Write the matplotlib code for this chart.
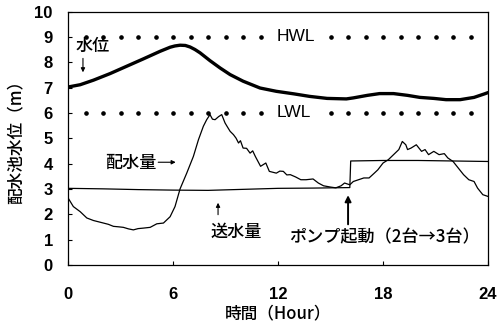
import numpy as np
import matplotlib
matplotlib.use('Agg')
import matplotlib.pyplot as plt

plt.rcParams['font.family'] = ['Noto Sans CJK JP', 'DejaVu Sans']

# 水位 (m)
level_h = [0, 0.69, 1.45, 2.4, 3.35, 4.3, 5.26, 5.83, 6.1, 6.4, 6.7, 6.97, 7.25, 7.54,
           8.11, 8.69, 9.26, 10.0, 10.97, 11.9, 12.9, 13.8, 14.8, 15.9, 16.3, 17.1,
           17.8, 18.6, 19.4, 20.1, 20.9, 21.6, 22.4, 23.2, 23.8, 24]
level_v = [7.02, 7.11, 7.29, 7.55, 7.84, 8.13, 8.43, 8.59, 8.64, 8.67, 8.66, 8.6, 8.5, 8.37,
           8.06, 7.77, 7.51, 7.25, 6.98, 6.85, 6.75, 6.65, 6.57, 6.55, 6.59, 6.69,
           6.76, 6.76, 6.69, 6.61, 6.57, 6.52, 6.52, 6.61, 6.75, 6.8]

# 配水量
demand_h = [0, 0.3, 0.69, 1.07, 1.45, 2.02, 2.3, 2.59, 2.9, 3.16, 3.45, 3.73, 4.0, 4.3,
            4.69, 5.07, 5.45, 5.83, 6.11, 6.4, 6.78, 7.16, 7.45, 7.73, 7.92, 8.11,
            8.25, 8.4, 8.6, 8.78, 8.97, 9.1, 9.26, 9.45, 9.6, 9.74, 9.85, 10.0, 10.2,
            10.4, 10.55, 10.7, 11.0, 11.3, 11.5, 11.9, 12.1, 12.3, 12.5, 12.7, 13.0,
            13.3, 13.6, 14.0, 14.3, 14.6, 15.0, 15.3, 15.6, 15.8, 16.1, 16.3, 16.6,
            16.9, 17.2, 17.5, 17.7, 18.0, 18.3, 18.6, 18.9, 19.1, 19.3, 19.4, 19.6,
            19.9, 20.2, 20.4, 20.6, 20.9, 21.2, 21.5, 21.7, 22.0, 22.3, 22.6, 22.9,
            23.2, 23.4, 23.7, 24]
demand_v = [2.64, 2.3, 2.1, 1.85, 1.75, 1.65, 1.6, 1.52, 1.5, 1.48, 1.42, 1.38, 1.43, 1.45,
            1.48, 1.62, 1.65, 1.9, 2.3, 3.0, 3.62, 4.28, 4.94, 5.47, 5.73, 5.93,
            5.75, 5.73, 5.85, 5.93, 5.6, 5.45, 5.27, 5.14, 5.0, 4.81, 4.9, 4.61, 4.6,
            4.41, 4.5, 4.28, 3.89, 4.02, 3.69, 3.62, 3.7, 3.69, 3.55, 3.56, 3.47,
            3.36, 3.36, 3.39, 3.23, 3.12, 3.07, 3.04, 3.12, 3.23, 3.16, 3.29, 3.36,
            3.43, 3.43, 3.62, 3.75, 4.02, 4.15, 4.35, 4.55, 4.87, 4.74, 4.55, 4.61,
            4.74, 4.48, 4.55, 4.35, 4.48, 4.35, 4.39, 4.22, 4.08, 3.82, 3.56, 3.36,
            3.29, 3.03, 2.77, 2.7]

# 送水量
supply_h = [0, 2, 4, 6, 8, 10, 12, 14, 16.1, 16.15, 18, 20, 22, 24]
supply_v = [3.02, 3.0, 2.97, 2.95, 2.94, 2.98, 3.02, 3.03, 3.05, 4.1, 4.12, 4.12, 4.1, 4.08]

# HWL / LWL の点線
hwl, lwl = 9, 6
dot_h = [1, 2, 3, 4, 5, 6, 7, 8, 9, 10, 11, 15, 16, 17, 18, 19, 20, 21, 22, 23]

fig = plt.figure(figsize=(4.97, 3.29), dpi=100)
ax = fig.add_axes([0.137, 0.195, 0.845, 0.77])

ax.plot(dot_h, [hwl] * len(dot_h), ls='none', marker='o', ms=2.3, color='black')
ax.plot(dot_h, [lwl] * len(dot_h), ls='none', marker='o', ms=2.3, color='black')
ax.text(13.0, hwl, 'HWL', ha='center', va='center', fontsize=12.5, family='Liberation Sans')
ax.text(12.9, lwl, 'LWL', ha='center', va='center', fontsize=12.5, family='Liberation Sans')

ax.plot(level_h, level_v, color='black', lw=2.4, solid_capstyle='round', solid_joinstyle='round')
ax.plot(demand_h, demand_v, color='black', lw=0.9)
ax.plot(supply_h, supply_v, color='black', lw=0.9)

jp = dict(fontsize=12.3, color='black', fontweight='medium')
ax.text(1.4, 8.62, '水位', ha='center', va='center', **jp)
ax.annotate('', xy=(0.85, 7.6), xytext=(0.85, 8.15),
            arrowprops=dict(arrowstyle='-|>', color='black', lw=0.8,
                            mutation_scale=6, shrinkA=0, shrinkB=0))
ax.text(3.6, 4.03, '配水量', ha='center', va='center', **jp)
ax.annotate('', xy=(6.15, 4.05), xytext=(5.15, 4.05),
            arrowprops=dict(arrowstyle='-|>', color='black', lw=0.8,
                            mutation_scale=6, shrinkA=0, shrinkB=0))
ax.text(9.6, 1.32, '送水量', ha='center', va='center', **jp)
ax.annotate('', xy=(8.57, 2.45), xytext=(8.57, 1.98),
            arrowprops=dict(arrowstyle='-|>', color='black', lw=0.8,
                            mutation_scale=6, shrinkA=0, shrinkB=0))
ax.text(18.1, 1.07, 'ポンプ起動（2台→3台）', ha='center', va='center', **jp)
ax.annotate('', xy=(16.0, 2.75), xytext=(16.0, 1.6),
            arrowprops=dict(arrowstyle='-|>', color='black', lw=1.4,
                            mutation_scale=9, shrinkA=0, shrinkB=0))

ax.set_xlim(0, 24)
ax.set_ylim(0, 10)
ax.set_xticks([0, 6, 12, 18, 24])
ax.set_yticks(range(0, 11))
ax.tick_params(axis='both', direction='in', length=3, width=0.8, labelsize=12)
ax.tick_params(axis='x', pad=16)
ax.tick_params(axis='y', pad=11)
for lab in ax.get_xticklabels() + ax.get_yticklabels():
    lab.set_family('Liberation Sans')
    lab.set_fontweight('bold')
for s in ax.spines.values():
    s.set_linewidth(0.9)

ax.set_xlabel('時間（Hour）', fontsize=12, fontweight='medium', labelpad=2)
ax.set_ylabel('配水池水位（m）', fontsize=12, fontweight='medium', labelpad=7)

fig.savefig('out.png', dpi=100)
